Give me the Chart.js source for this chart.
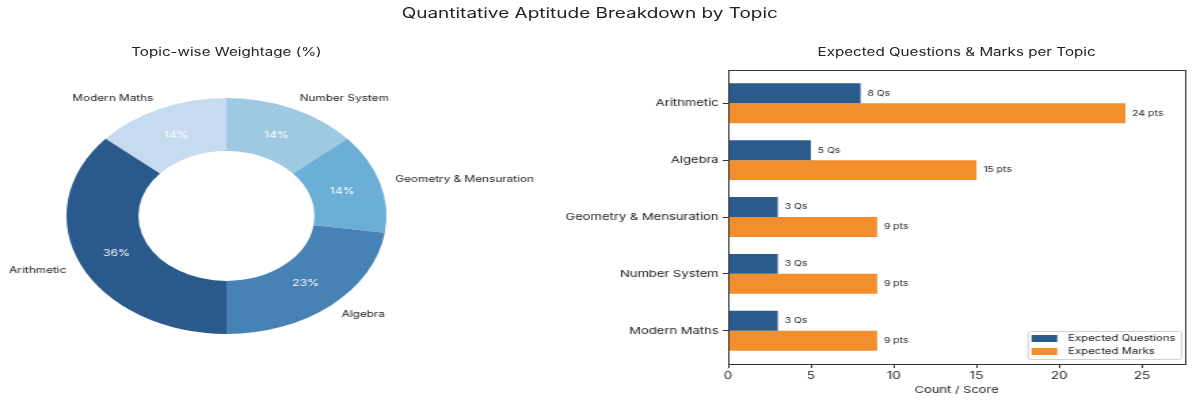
<!DOCTYPE html>
<html>
<head>
<meta charset="utf-8">
<title>Quantitative Aptitude Breakdown by Topic</title>
<script src="https://cdn.jsdelivr.net/npm/chart.js@4.4.1/dist/chart.umd.min.js"></script>
<style>
  html, body { margin: 0; padding: 0; background: #fff; overflow: hidden; }
  /* the figure is drawn narrow and then stretched sideways, like the reference */
  #stage {
    position: relative; width: 885px; height: 400px;
    transform: scaleX(1.3559); transform-origin: 0 0;
    font-family: Inter, "Liberation Sans", sans-serif; color: #222;
  }
  .ttl { position: absolute; text-align: center; white-space: nowrap; }
  #suptitle { left: 0; width: 870px; top: 4px; font-size: 14px; }
  #pieTitle { left: 0; width: 334px; top: 45px; font-size: 11.2px; }
  #barTitle { left: 537px; width: 337px; top: 45px; font-size: 11.2px; }
  canvas { position: absolute; top: 0; }
  #pie { left: 0; }
  #bars { left: 400px; }
</style>
</head>
<body>
<div id="stage">
  <div class="ttl" id="suptitle">Quantitative Aptitude Breakdown by Topic</div>
  <div class="ttl" id="pieTitle">Topic-wise Weightage (%)</div>
  <div class="ttl" id="barTitle">Expected Questions &amp; Marks per Topic</div>
  <canvas id="pie" width="440" height="400"></canvas>
  <canvas id="bars" width="485" height="400"></canvas>
</div>
<script>
const topics = ['Arithmetic', 'Algebra', 'Geometry & Mensuration', 'Number System', 'Modern Maths'];
const expectedQuestions = [8, 5, 3, 3, 3];
const expectedMarks = [24, 15, 9, 9, 9];
const xTicks = [0, 5, 10, 15, 20, 25];

const pieColors = ['#2a5a8c', '#4682b4', '#6baed6', '#9ecae1', '#c6dbef'];
const qColor = '#2b5b8d';
const mColor = '#f28e2b';
const FONT = 'Inter, "Liberation Sans", sans-serif';

Chart.defaults.font.family = FONT;
Chart.defaults.color = '#222';

// pie goes counter-clockwise in the reference, so feed it reversed
const pieLabelsRev = topics.slice().reverse();
const pieValuesRev = expectedQuestions.slice().reverse();
const pieColorsRev = pieColors.slice().reverse();
const total = expectedQuestions.reduce((a, b) => a + b, 0);
const startRot = -360 * pieValuesRev[0] / total;

const pieText = {
  id: 'pieText',
  afterDatasetsDraw(chart) {
    const ctx = chart.ctx;
    const vals = chart.data.datasets[0].data;
    chart.getDatasetMeta(0).data.forEach((arc, i) => {
      const p = arc.getProps(['x', 'y', 'startAngle', 'endAngle', 'outerRadius'], true);
      const mid = (p.startAngle + p.endAngle) / 2;
      const cx = Math.cos(mid), cy = Math.sin(mid);
      ctx.save();
      ctx.textBaseline = 'middle';
      ctx.font = '8.7px ' + FONT;
      ctx.fillStyle = '#222';
      ctx.textAlign = cx >= 0 ? 'left' : 'right';
      ctx.fillText(chart.data.labels[i], p.x + cx * p.outerRadius * 1.1, p.y + cy * p.outerRadius * 1.1);
      ctx.fillStyle = '#fff';
      ctx.textAlign = 'center';
      ctx.font = '9px ' + FONT;
      const pct = Math.round(vals[i] / total * 100) + '%';
      ctx.fillText(pct, p.x + cx * p.outerRadius * 0.755, p.y + cy * p.outerRadius * 0.755);
      ctx.restore();
    });
  }
};

new Chart(document.getElementById('pie'), {
  type: 'doughnut',
  data: {
    labels: pieLabelsRev,
    datasets: [{
      data: pieValuesRev,
      backgroundColor: pieColorsRev,
      borderWidth: 0,
    }],
  },
  options: {
    responsive: false,
    animation: false,
    cutout: '55%',
    rotation: startRot,
    layout: { padding: { left: 49, right: 155, top: 98, bottom: 66 } },
    plugins: { legend: { display: false }, tooltip: { enabled: false } },
  },
  plugins: [pieText],
});

const barExtras = {
  id: 'barExtras',
  afterDatasetsDraw(chart) {
    const ctx = chart.ctx;
    const area = chart.chartArea;
    const suffix = [' Qs', ' pts'];
    ctx.save();
    ctx.font = '7.7px ' + FONT;
    ctx.fillStyle = '#222';
    ctx.textAlign = 'left';
    ctx.textBaseline = 'middle';
    chart.data.datasets.forEach((ds, d) => {
      chart.getDatasetMeta(d).data.forEach((bar, i) => {
        ctx.fillText(ds.data[i].x + suffix[d], bar.x + 5, bar.y);
      });
    });
    ctx.restore();

    // full box around the axes
    ctx.save();
    ctx.strokeStyle = '#333';
    ctx.lineWidth = 1;
    ctx.strokeRect(Math.round(area.left) + 0.5, Math.round(area.top) + 0.5,
      Math.round(area.right - area.left), Math.round(area.bottom - area.top));
    ctx.restore();

    // legend, lower right inside the axes
    ctx.save();
    ctx.font = '8.4px ' + FONT;
    const names = chart.data.datasets.map(ds => ds.label);
    const tw = Math.max(...names.map(n => ctx.measureText(n).width));
    const w = 3 + 19 + 8 + tw + 4;
    const h = 28;
    const x0 = area.right - 3 - w;
    const y0 = area.bottom - 5 - h;
    ctx.fillStyle = 'rgba(255,255,255,0.85)';
    ctx.strokeStyle = '#d0d0d0';
    ctx.lineWidth = 1;
    ctx.beginPath();
    ctx.roundRect(x0 + 0.5, y0 + 0.5, w, h, 2);
    ctx.fill();
    ctx.stroke();
    chart.data.datasets.forEach((ds, d) => {
      const yy = y0 + 7.5 + d * 13;
      ctx.fillStyle = ds.backgroundColor;
      ctx.fillRect(x0 + 3, yy - 3.5, 19, 7);
      ctx.fillStyle = '#222';
      ctx.textBaseline = 'middle';
      ctx.fillText(ds.label, x0 + 3 + 19 + 8, yy);
    });
    ctx.restore();
  }
};

// topics sit on a numeric axis (0..4) so the spacing matches the reference
new Chart(document.getElementById('bars'), {
  type: 'bar',
  data: {
    datasets: [
      { label: 'Expected Questions', data: expectedQuestions.map((v, i) => ({ x: v, y: i })), backgroundColor: qColor, borderWidth: 0 },
      { label: 'Expected Marks', data: expectedMarks.map((v, i) => ({ x: v, y: i })), backgroundColor: mColor, borderWidth: 0 },
    ],
  },
  options: {
    indexAxis: 'y',
    responsive: false,
    animation: false,
    layout: { padding: { top: 70, right: 11, left: 0, bottom: 0 } },
    datasets: { bar: { categoryPercentage: 0.7, barPercentage: 1.0 } },
    scales: {
      x: {
        type: 'linear',
        min: 0,
        max: 27.6,
        afterBuildTicks: (s) => { s.ticks = xTicks.map(v => ({ value: v })); },
        afterFit: (s) => { s.height = 36; },
        ticks: { font: { size: 10 }, color: '#222', padding: 2 },
        grid: { display: true, drawOnChartArea: false, drawTicks: true, tickLength: 4, color: '#333' },
        border: { display: true, color: '#333' },
        title: { display: true, text: 'Count / Score', font: { size: 9.5 }, color: '#222', padding: { top: 0, bottom: 4 } },
      },
      y: {
        type: 'linear',
        offset: false,
        min: -0.585,
        max: topics.length - 1 + 0.585,
        reverse: true,
        afterBuildTicks: (s) => { s.ticks = topics.map((t, i) => ({ value: i })); },
        afterFit: (s) => { s.width = 137; },
        ticks: { font: { size: 9.6 }, color: '#222', padding: 3, autoSkip: false, callback: (v) => topics[v] },
        grid: { display: true, offset: false, drawOnChartArea: false, drawTicks: true, tickLength: 4, color: '#333' },
        border: { display: true, color: '#333' },
      },
    },
    plugins: { legend: { display: false }, tooltip: { enabled: false } },
  },
  plugins: [barExtras],
});
</script>
</body>
</html>
